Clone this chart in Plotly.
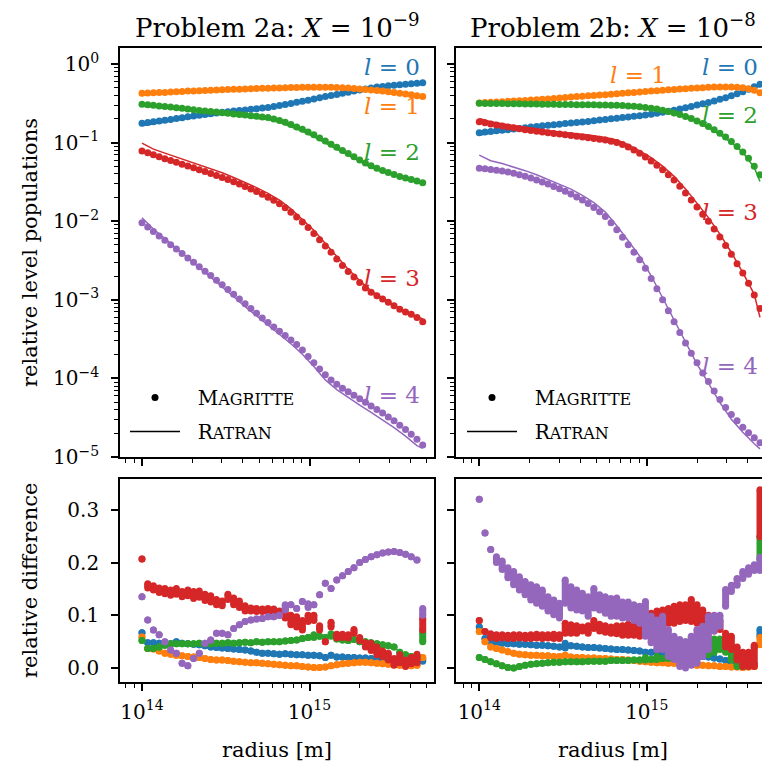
import numpy as np
import plotly.graph_objects as go

# ---------------------------------------------------------------------------
# Radial grid (units of 1e14 m)
# ---------------------------------------------------------------------------
radius_1e14 = [1.000, 1.082, 1.170, 1.266, 1.370, 1.483, 1.604, 1.735, 1.878, 2.032,
               2.198, 2.378, 2.573, 2.784, 3.012, 3.258, 3.526, 3.815, 4.127, 4.466,
               4.831, 5.227, 5.655, 6.119, 6.620, 7.161, 7.748, 8.383, 9.069, 9.813,
               10.62, 11.49, 12.43, 13.45, 14.55, 15.74, 17.03, 18.43, 19.94, 21.57,
               23.33, 25.25, 27.32, 29.55, 31.98, 34.59, 37.43, 40.50, 43.82, 47.41]

radius_ratran_1e14 = [1.000, 1.170, 1.370, 1.604, 1.878, 2.198, 2.573, 3.012, 3.526, 4.127,
                      4.831, 5.655, 6.620, 7.748, 9.069, 10.62, 12.43, 14.55, 17.03, 19.94,
                      23.33, 27.32, 31.98, 37.43, 43.82, 47.41]

# ---------------------------------------------------------------------------
# Level populations, log10 -- Magritte (points) and Ratran (lines)
# ---------------------------------------------------------------------------
mag_2a_l0 = [-0.755, -0.745, -0.735, -0.726, -0.716, -0.705, -0.694, -0.683, -0.672, -0.661,
             -0.651, -0.642, -0.633, -0.624, -0.615, -0.606, -0.598, -0.591, -0.584, -0.577,
             -0.569, -0.561, -0.552, -0.540, -0.527, -0.514, -0.501, -0.488, -0.474, -0.460,
             -0.445, -0.430, -0.415, -0.401, -0.387, -0.373, -0.359, -0.345, -0.331, -0.317,
             -0.305, -0.294, -0.285, -0.277, -0.270, -0.264, -0.258, -0.252, -0.246, -0.240]
mag_2a_l1 = [-0.373, -0.370, -0.367, -0.364, -0.361, -0.357, -0.353, -0.349, -0.345, -0.342,
             -0.339, -0.336, -0.333, -0.330, -0.327, -0.324, -0.322, -0.320, -0.317, -0.315,
             -0.312, -0.310, -0.308, -0.306, -0.304, -0.302, -0.300, -0.298, -0.297, -0.296,
             -0.295, -0.295, -0.296, -0.297, -0.299, -0.302, -0.306, -0.311, -0.317, -0.323,
             -0.330, -0.337, -0.345, -0.353, -0.362, -0.371, -0.381, -0.392, -0.403, -0.414]
mag_2a_l2 = [-0.513, -0.519, -0.526, -0.533, -0.540, -0.547, -0.555, -0.563, -0.572, -0.581,
             -0.590, -0.598, -0.605, -0.612, -0.620, -0.628, -0.636, -0.643, -0.650, -0.658,
             -0.665, -0.673, -0.682, -0.699, -0.718, -0.741, -0.770, -0.800, -0.830, -0.865,
             -0.900, -0.940, -0.980, -1.020, -1.060, -1.100, -1.140, -1.180, -1.220, -1.260,
             -1.295, -1.325, -1.355, -1.380, -1.405, -1.430, -1.450, -1.470, -1.490, -1.510]
mag_2a_l3 = [-1.107, -1.130, -1.155, -1.180, -1.204, -1.228, -1.251, -1.274, -1.297, -1.320,
             -1.344, -1.368, -1.392, -1.417, -1.443, -1.469, -1.497, -1.527, -1.558, -1.590,
             -1.623, -1.658, -1.695, -1.735, -1.778, -1.828, -1.885, -1.945, -2.010, -2.080,
             -2.155, -2.235, -2.315, -2.395, -2.480, -2.565, -2.640, -2.710, -2.780, -2.850,
             -2.905, -2.950, -2.990, -3.030, -3.075, -3.120, -3.155, -3.185, -3.225, -3.280]
mag_2a_l4 = [-2.019, -2.075, -2.131, -2.187, -2.243, -2.299, -2.355, -2.411, -2.467, -2.523,
             -2.580, -2.636, -2.690, -2.750, -2.810, -2.870, -2.930, -2.990, -3.050, -3.110,
             -3.170, -3.230, -3.290, -3.345, -3.400, -3.455, -3.510, -3.570, -3.640, -3.720,
             -3.800, -3.880, -3.955, -4.020, -4.075, -4.125, -4.170, -4.215, -4.260, -4.305,
             -4.350, -4.395, -4.440, -4.490, -4.540, -4.595, -4.650, -4.710, -4.775, -4.847]

rat_2a_l0 = [-0.785, -0.757, -0.737, -0.714, -0.692, -0.670, -0.651, -0.632, -0.614, -0.599,
             -0.583, -0.566, -0.540, -0.513, -0.486, -0.456, -0.425, -0.397, -0.369, -0.340,
             -0.313, -0.292, -0.276, -0.264, -0.251, -0.247]
rat_2a_l1 = [-0.400, -0.383, -0.376, -0.367, -0.358, -0.350, -0.343, -0.335, -0.329, -0.323,
             -0.317, -0.312, -0.307, -0.302, -0.298, -0.295, -0.296, -0.301, -0.310, -0.321,
             -0.334, -0.349, -0.366, -0.384, -0.405, -0.422]
rat_2a_l2 = [-0.536, -0.543, -0.561, -0.577, -0.594, -0.612, -0.627, -0.642, -0.658, -0.672,
             -0.687, -0.705, -0.741, -0.793, -0.855, -0.927, -1.005, -1.085, -1.164, -1.243,
             -1.317, -1.374, -1.422, -1.460, -1.499, -1.536]
rat_2a_l3 = [-1.007, -1.083, -1.134, -1.185, -1.229, -1.278, -1.329, -1.383, -1.444, -1.506,
             -1.573, -1.645, -1.732, -1.844, -1.974, -2.114, -2.283, -2.453, -2.612, -2.756,
             -2.887, -2.977, -3.070, -3.149, -3.219, -3.241]
rat_2a_l4 = [-1.955, -2.099, -2.221, -2.343, -2.467, -2.592, -2.712, -2.838, -2.961, -3.087,
             -3.209, -3.330, -3.441, -3.559, -3.692, -3.849, -4.019, -4.142, -4.243, -4.339,
             -4.433, -4.526, -4.627, -4.735, -4.856, -4.891]

mag_2b_l0 = [-0.874, -0.866, -0.858, -0.850, -0.843, -0.835, -0.827, -0.819, -0.811, -0.803,
             -0.795, -0.787, -0.779, -0.772, -0.765, -0.758, -0.751, -0.744, -0.737, -0.730,
             -0.722, -0.714, -0.706, -0.698, -0.690, -0.682, -0.674, -0.666, -0.657, -0.648,
             -0.638, -0.627, -0.615, -0.602, -0.588, -0.573, -0.557, -0.540, -0.522, -0.506,
             -0.489, -0.470, -0.450, -0.430, -0.405, -0.380, -0.352, -0.322, -0.290, -0.258]
mag_2b_l1 = [-0.495, -0.491, -0.487, -0.483, -0.479, -0.475, -0.471, -0.467, -0.463, -0.459,
             -0.455, -0.450, -0.445, -0.439, -0.433, -0.427, -0.421, -0.415, -0.410, -0.405,
             -0.400, -0.395, -0.390, -0.385, -0.379, -0.373, -0.367, -0.361, -0.355, -0.349,
             -0.344, -0.339, -0.334, -0.329, -0.324, -0.319, -0.314, -0.309, -0.305, -0.301,
             -0.297, -0.294, -0.292, -0.291, -0.292, -0.296, -0.303, -0.315, -0.335, -0.365]
mag_2b_l2 = [-0.500, -0.501, -0.502, -0.503, -0.504, -0.505, -0.506, -0.507, -0.508, -0.509,
             -0.510, -0.511, -0.512, -0.513, -0.514, -0.515, -0.516, -0.517, -0.518, -0.519,
             -0.520, -0.521, -0.522, -0.524, -0.526, -0.529, -0.533, -0.538, -0.544, -0.552,
             -0.562, -0.574, -0.588, -0.604, -0.622, -0.643, -0.667, -0.694, -0.724, -0.757,
             -0.794, -0.835, -0.880, -0.930, -0.986, -1.048, -1.120, -1.200, -1.300, -1.410]
mag_2b_l3 = [-0.734, -0.748, -0.762, -0.775, -0.788, -0.800, -0.812, -0.824, -0.835, -0.846,
             -0.856, -0.865, -0.874, -0.883, -0.892, -0.901, -0.910, -0.919, -0.928, -0.938,
             -0.948, -0.958, -0.968, -0.982, -1.000, -1.025, -1.057, -1.095, -1.137, -1.183,
             -1.233, -1.287, -1.345, -1.408, -1.476, -1.555, -1.640, -1.730, -1.820, -1.910,
             -2.000, -2.100, -2.200, -2.310, -2.420, -2.540, -2.660, -2.790, -2.940, -3.110]
mag_2b_l4 = [-1.327, -1.334, -1.342, -1.351, -1.361, -1.374, -1.390, -1.408, -1.428, -1.450,
             -1.475, -1.500, -1.528, -1.557, -1.588, -1.620, -1.655, -1.692, -1.730, -1.775,
             -1.825, -1.880, -1.940, -2.020, -2.110, -2.205, -2.300, -2.395, -2.490, -2.600,
             -2.730, -2.860, -3.000, -3.140, -3.278, -3.415, -3.550, -3.680, -3.800, -3.930,
             -4.040, -4.160, -4.270, -4.370, -4.460, -4.540, -4.620, -4.690, -4.755, -4.818]

rat_2b_l0 = [-0.907, -0.879, -0.863, -0.846, -0.830, -0.814, -0.798, -0.783, -0.768, -0.753,
             -0.736, -0.720, -0.703, -0.686, -0.669, -0.650, -0.626, -0.599, -0.567, -0.531,
             -0.497, -0.456, -0.410, -0.356, -0.293, -0.285]
rat_2b_l1 = [-0.524, -0.504, -0.494, -0.483, -0.474, -0.466, -0.455, -0.442, -0.430, -0.418,
             -0.408, -0.397, -0.385, -0.372, -0.360, -0.348, -0.337, -0.327, -0.316, -0.307,
             -0.299, -0.293, -0.293, -0.304, -0.337, -0.386]
rat_2b_l2 = [-0.509, -0.507, -0.506, -0.506, -0.510, -0.513, -0.517, -0.519, -0.521, -0.523,
             -0.525, -0.527, -0.531, -0.538, -0.549, -0.567, -0.593, -0.627, -0.676, -0.741,
             -0.811, -0.899, -0.999, -1.122, -1.317, -1.496]
rat_2b_l3 = [-0.693, -0.735, -0.761, -0.785, -0.808, -0.829, -0.847, -0.865, -0.876, -0.894,
             -0.914, -0.934, -0.968, -1.025, -1.105, -1.192, -1.299, -1.430, -1.589, -1.769,
             -1.954, -2.164, -2.398, -2.653, -2.931, -3.224]
rat_2b_l4 = [-1.160, -1.231, -1.267, -1.309, -1.357, -1.409, -1.472, -1.537, -1.592, -1.672,
             -1.765, -1.884, -2.057, -2.249, -2.444, -2.694, -2.971, -3.256, -3.537, -3.817,
             -4.061, -4.307, -4.521, -4.686, -4.831, -4.897]

# ---------------------------------------------------------------------------
# Relative differences; a [low, high] pair marks the spread of the points
# sharing one radius
# ---------------------------------------------------------------------------
dif_2a_l0 = [0.067, 0.048, 0.048, 0.047, 0.047, 0.046, 0.050, 0.047, 0.046, 0.045,
             0.044, 0.042, 0.040, 0.039, 0.038, 0.037, 0.036, 0.035, 0.034, 0.032,
             0.030, 0.028, 0.028, 0.027, 0.026, 0.027, 0.026, 0.025, 0.025, 0.024,
             0.024, 0.023, 0.020, 0.024, 0.021, 0.021, 0.020, 0.020, 0.019, 0.019,
             0.018, 0.017, 0.016, 0.015, 0.014, 0.013, 0.012, 0.011, 0.010, [0.013, 0.018]]
dif_2a_l1 = [0.059, 0.037, 0.036, 0.032, 0.028, 0.026, 0.024, 0.023, 0.022, 0.021,
             0.020, 0.018, 0.016, 0.015, 0.015, 0.014, 0.013, 0.012, 0.011, 0.010,
             0.010, 0.009, 0.008, 0.007, 0.006, 0.005, 0.004, 0.004, 0.003, 0.002,
             0.001, 0.001, 0.002, 0.004, 0.006, 0.008, 0.009, 0.010, 0.011, 0.011,
             0.010, 0.009, 0.008, 0.007, 0.006, 0.005, 0.004, 0.004, 0.005, 0.020]
dif_2a_l2 = [0.052, 0.037, 0.037, 0.040, 0.043, 0.046, 0.046, 0.046, 0.046, 0.046,
             0.047, 0.046, 0.046, 0.047, 0.047, 0.048, 0.047, 0.048, 0.049, 0.048,
             0.050, 0.049, 0.050, 0.050, 0.050, 0.051, 0.052, 0.053, 0.056, 0.058,
             [0.058, 0.063], 0.060, 0.058, [0.060, 0.065], 0.055, 0.053, 0.052, 0.054, 0.050, 0.050,
             0.048, 0.046, 0.044, 0.042, 0.040, 0.030, 0.025, 0.022, 0.020, [0.050, 0.069]]
dif_2a_l3 = [0.207, [0.152, 0.160], [0.148, 0.156], [0.143, 0.152], [0.141, 0.151],
             [0.138, 0.148], [0.140, 0.151], [0.135, 0.145], [0.137, 0.148], [0.132, 0.145],
             [0.134, 0.146], [0.128, 0.140], [0.125, 0.137], [0.120, 0.130], [0.118, 0.127],
             [0.130, 0.140], [0.120, 0.133], [0.115, 0.127], [0.108, 0.118], [0.108, 0.114],
             [0.107, 0.113], [0.107, 0.112], [0.107, 0.113], [0.106, 0.112], [0.100, 0.108],
             [0.095, 0.112], [0.082, 0.100], [0.078, 0.097], [0.072, 0.090], [0.088, 0.100],
             [0.090, 0.100], [0.072, 0.080], 0.050, [0.078, 0.087], [0.057, 0.064],
             [0.058, 0.064], [0.057, 0.063], [0.066, 0.073], [0.052, 0.058], [0.040, 0.048],
             [0.033, 0.047], [0.025, 0.040], [0.022, 0.032], [0.015, 0.028], [0.005, 0.018],
             [0.010, 0.025], [0.003, 0.015], [0.008, 0.020], [0.010, 0.026], [0.072, 0.095]]
dif_2a_l4 = [0.135, 0.091, 0.072, 0.063, 0.050, 0.034, 0.028, 0.009, 0.004, 0.018,
             0.028, 0.047, 0.053, 0.066, 0.066, 0.063, 0.075, 0.082, 0.088, 0.091,
             0.093, 0.094, 0.097, 0.097, 0.100, [0.110, 0.120], 0.120, 0.113, 0.126, [0.115, 0.122],
             0.120, 0.139, 0.161, 0.151, 0.167, 0.175, 0.183, 0.190, 0.200, 0.206,
             0.211, 0.215, 0.218, 0.220, 0.221, 0.219, 0.216, 0.211, 0.205, [0.100, 0.113]]

dif_2b_l0 = [0.078, 0.056, 0.050, 0.048, 0.047, 0.046, 0.046, 0.045, 0.045, 0.044,
             0.043, 0.043, 0.042, 0.041, 0.040, [0.038, 0.047], 0.042, 0.041, 0.040, 0.039,
             0.039, 0.038, 0.037, 0.036, 0.035, 0.035, 0.034, 0.033, 0.032, 0.030,
             0.030, 0.029, 0.029, 0.028, 0.027, 0.026, 0.025, 0.024, 0.023, 0.022,
             0.021, 0.019, 0.017, 0.014, 0.012, 0.010, 0.009, 0.008, 0.007, [0.060, 0.073]]
dif_2b_l1 = [0.069, 0.050, 0.040, 0.037, 0.034, 0.031, 0.028, 0.026, 0.025, 0.024,
             0.024, 0.023, 0.023, 0.022, 0.022, 0.024, 0.021, 0.020, 0.020, 0.019,
             0.019, 0.018, 0.018, 0.017, 0.016, 0.016, 0.015, 0.014, 0.013, 0.012,
             0.011, 0.010, 0.010, 0.009, 0.009, 0.008, 0.007, 0.006, 0.005, 0.005,
             0.004, 0.004, 0.003, 0.003, 0.002, 0.002, 0.001, 0.002, 0.003, [0.044, 0.058]]
dif_2b_l2 = [0.020, 0.016, 0.012, 0.008, 0.004, 0.001, 0.000, 0.003, 0.005, 0.007,
             0.008, 0.009, 0.010, 0.011, 0.011, 0.012, 0.012, 0.012, 0.012, 0.013,
             0.013, 0.013, 0.013, 0.014, 0.014, 0.014, 0.014, 0.015, 0.015, [0.015, 0.020],
             0.016, [0.016, 0.022], 0.018, [0.018, 0.026], [0.020, 0.030],
             [0.022, 0.040], [0.030, 0.050], [0.035, 0.055], [0.030, 0.050], [0.025, 0.045],
             [0.025, 0.050], [0.030, 0.055], [0.035, 0.055], [0.030, 0.050], [0.015, 0.035],
             [0.003, 0.012], 0.003, 0.005, 0.040, [0.205, 0.249]]
dif_2b_l3 = [0.090, 0.069, [0.058, 0.065], [0.056, 0.063], [0.057, 0.063],
             [0.056, 0.062], [0.056, 0.063], [0.057, 0.063], [0.056, 0.062], [0.056, 0.063],
             [0.057, 0.064], [0.056, 0.063], [0.057, 0.063], [0.056, 0.064], [0.056, 0.063],
             [0.066, 0.085], [0.066, 0.082], [0.066, 0.080], [0.070, 0.078], [0.066, 0.080],
             [0.075, 0.090], [0.070, 0.083], [0.068, 0.080], [0.066, 0.078], [0.065, 0.080],
             [0.062, 0.080], [0.062, 0.083], [0.062, 0.080], [0.060, 0.078], [0.070, 0.095],
             [0.085, 0.104], [0.088, 0.108], [0.090, 0.110], [0.085, 0.113], [0.085, 0.117],
             [0.088, 0.120], [0.090, 0.120], [0.088, 0.130], [0.085, 0.120], [0.080, 0.110],
             [0.075, 0.100], [0.070, 0.095], [0.073, 0.090], [0.040, 0.066], [0.035, 0.060],
             [0.015, 0.040], [0.003, 0.030], [0.003, 0.030], [0.003, 0.043], [0.249, 0.338]]
dif_2b_l4 = [0.320, 0.256, 0.225, [0.200, 0.211], [0.187, 0.203],
             [0.171, 0.190], [0.158, 0.183], [0.148, 0.173], [0.139, 0.164], [0.129, 0.158],
             [0.123, 0.154], [0.117, 0.148], [0.108, 0.135], [0.101, 0.129], [0.095, 0.123],
             [0.123, 0.167], [0.114, 0.154], [0.110, 0.148], [0.108, 0.142], [0.098, 0.135],
             [0.114, 0.151], [0.110, 0.139], [0.104, 0.135], [0.098, 0.132], [0.098, 0.133],
             [0.095, 0.125], [0.095, 0.125], [0.090, 0.120], [0.085, 0.117], [0.060, 0.126],
             [0.048, 0.098], [0.035, 0.091], [0.035, 0.098], [0.022, 0.073], [0.016, 0.060],
             [0.003, 0.054], [0.000, 0.050], [0.005, 0.060], [0.009, 0.073], [0.022, 0.079],
             [0.035, 0.098], [0.070, 0.100], [0.079, 0.100], [0.117, 0.149], [0.145, 0.157],
             [0.157, 0.170], [0.170, 0.183], [0.178, 0.190], [0.185, 0.196], [0.185, 0.210]]

levels = [0, 1, 2, 3, 4]
level_colors = ["#1f77b4", "#ff7f0e", "#2ca02c", "#d62728", "#9467bd"]

# ---------------------------------------------------------------------------
# Figure geometry helpers (pixel -> paper fraction)
# ---------------------------------------------------------------------------
W, H = 762, 769
FONT = "DejaVu Serif"


def fx(p):
    return p / W


def fy(p):
    return 1 - p / H


r = np.array(radius_1e14) * 1e14
r_rat = np.array(radius_ratran_1e14) * 1e14

mag = {"a": [mag_2a_l0, mag_2a_l1, mag_2a_l2, mag_2a_l3, mag_2a_l4],
       "b": [mag_2b_l0, mag_2b_l1, mag_2b_l2, mag_2b_l3, mag_2b_l4]}
rat = {"a": [rat_2a_l0, rat_2a_l1, rat_2a_l2, rat_2a_l3, rat_2a_l4],
       "b": [rat_2b_l0, rat_2b_l1, rat_2b_l2, rat_2b_l3, rat_2b_l4]}
dif = {"a": [dif_2a_l0, dif_2a_l1, dif_2a_l2, dif_2a_l3, dif_2a_l4],
       "b": [dif_2b_l0, dif_2b_l1, dif_2b_l2, dif_2b_l3, dif_2b_l4]}


def split_range(vals):
    lo = np.array([v[0] if isinstance(v, list) else v for v in vals])
    hi = np.array([v[1] if isinstance(v, list) else v for v in vals])
    return lo, hi


MS = 7  # marker diameter in px
fig = go.Figure()

panels = {"a": ("x", "y", "x3", "y3"), "b": ("x2", "y2", "x4", "y4")}
for prob, (xt, yt, xb, yb) in panels.items():
    for lvl, col in zip(levels, level_colors):
        # populations: Magritte points + Ratran line
        fig.add_trace(go.Scatter(
            x=r, y=np.power(10.0, mag[prob][lvl]), mode="markers",
            marker=dict(size=MS, color=col, line=dict(width=0)),
            xaxis=xt, yaxis=yt, showlegend=False, hoverinfo="skip"))
        fig.add_trace(go.Scatter(
            x=r_rat, y=np.power(10.0, rat[prob][lvl]), mode="lines",
            line=dict(color=col, width=1.5),
            xaxis=xt, yaxis=yt, showlegend=False, hoverinfo="skip"))
        # relative differences: spread drawn as a bar between its end points
        lo, hi = split_range(dif[prob][lvl])
        fig.add_trace(go.Scatter(
            x=r, y=lo, mode="markers",
            marker=dict(size=MS, color=col, line=dict(width=0)),
            error_y=dict(type="data", symmetric=False, array=hi - lo,
                         arrayminus=np.zeros(len(lo)), thickness=MS, width=0,
                         color=col),
            xaxis=xb, yaxis=yb, showlegend=False, hoverinfo="skip"))
        fig.add_trace(go.Scatter(
            x=r, y=hi, mode="markers",
            marker=dict(size=MS, color=col, line=dict(width=0)),
            xaxis=xb, yaxis=yb, showlegend=False, hoverinfo="skip"))

# legend entries (black symbols) for each top panel, names in small capitals
NB = "\u00a0\u00a0"
sc_small = "<span style='font-size:16px'>{}</span>"
for leg, xt, yt in (("legend", "x", "y"), ("legend2", "x2", "y2")):
    fig.add_trace(go.Scatter(
        x=[None], y=[None], mode="markers", marker=dict(size=MS, color="black"),
        name=NB + "M" + sc_small.format("AGRITTE"), legend=leg,
        legendgroup=leg + "m", xaxis=xt, yaxis=yt))
    fig.add_trace(go.Scatter(
        x=[None], y=[None], mode="lines", line=dict(color="black", width=1.5),
        name=NB + "R" + sc_small.format("ATRAN"), legend=leg,
        legendgroup=leg + "r", xaxis=xt, yaxis=yt))

# ---------------------------------------------------------------------------
# Axes
# ---------------------------------------------------------------------------
x_major = [1e14, 1e15]
x_major_text = ["10<sup>14</sup>", "10<sup>15</sup>"]
x_minor = [m * 10.0 ** e for e in (13, 14, 15) for m in range(2, 10)]
y_major = [10.0 ** e for e in range(-5, 1)]
y_major_text = ["10<sup>−%d</sup>" % (-e) if e < 0 else "10<sup>0</sup>" for e in range(-5, 1)]
y_minor = [m * 10.0 ** e for e in range(-5, 0) for m in range(2, 10)]
d_major = [0.0, 0.1, 0.2, 0.3]
d_major_text = ["0.0", "0.1", "0.2", "0.3"]

base = dict(showgrid=False, zeroline=False, showline=True, linecolor="black",
            linewidth=1.7, ticks="outside", ticklen=7, tickwidth=1.7,
            tickcolor="black", tickfont=dict(family=FONT, size=20, color="black"))
minor_ticks = dict(ticks="outside", ticklen=4, tickwidth=1.2, tickcolor="black",
                   showgrid=False)

left_x = [fx(120), fx(434)]
right_x = [fx(456), 1.0]
top_y = [fy(457), fy(48)]
bot_y = [fy(682), fy(479)]
xr_left = [13.8687, 15.7433]
xr_right = [13.861, 15.6878]

fig.update_layout(
    xaxis=dict(base, type="log", domain=left_x, range=xr_left, anchor="y",
               tickvals=x_major, ticktext=x_major_text, showticklabels=False,
               minor=dict(minor_ticks, tickvals=x_minor), mirror=True),
    yaxis=dict(base, type="log", domain=top_y, range=[-5.0, 0.2036], anchor="x",
               tickvals=y_major, ticktext=y_major_text, ticklabelstandoff=8,
               minor=dict(minor_ticks, tickvals=y_minor), mirror=True),
    xaxis2=dict(base, type="log", domain=right_x, range=xr_right, anchor="y2",
                tickvals=x_major, ticktext=x_major_text, showticklabels=False,
                minor=dict(minor_ticks, tickvals=x_minor), mirror=True),
    yaxis2=dict(base, type="log", domain=top_y, range=[-5.0, 0.2036], anchor="x2",
                tickvals=y_major, ticktext=y_major_text, showticklabels=False,
                minor=dict(minor_ticks, tickvals=y_minor)),
    xaxis3=dict(base, type="log", domain=left_x, range=xr_left, anchor="y3",
                tickvals=x_major, ticktext=x_major_text, ticklabelstandoff=4,
                minor=dict(minor_ticks, tickvals=x_minor), mirror=True),
    yaxis3=dict(base, domain=bot_y, range=[-0.0266, 0.3586], anchor="x3",
                tickvals=d_major, ticktext=d_major_text, ticklabelstandoff=8,
                mirror=True),
    xaxis4=dict(base, type="log", domain=right_x, range=xr_right, anchor="y4",
                tickvals=x_major, ticktext=x_major_text, ticklabelstandoff=4,
                minor=dict(minor_ticks, tickvals=x_minor), mirror=True),
    yaxis4=dict(base, domain=bot_y, range=[-0.0266, 0.3586], anchor="x4",
                tickvals=d_major, ticktext=d_major_text, showticklabels=False),
)

legend_style = dict(xanchor="left", yanchor="top", bgcolor="rgba(0,0,0,0)",
                    borderwidth=0, font=dict(family=FONT, size=20, color="black"),
                    tracegroupgap=5, itemwidth=50)
fig.update_layout(
    legend=dict(legend_style, x=fx(125), y=fy(378)),
    legend2=dict(legend_style, x=fx(462), y=fy(378)),
)

# ---------------------------------------------------------------------------
# Text: titles, axis labels, level labels
# ---------------------------------------------------------------------------
annotations = [
    dict(text="Problem 2a: <i>X</i> = 10<sup>−9</sup>", x=fx(277), y=fy(26),
         font=dict(size=26)),
    dict(text="Problem 2b: <i>X</i> = 10<sup>−8</sup>", x=fx(613), y=fy(26),
         font=dict(size=26)),
    dict(text="relative level populations", x=fx(30), y=fy(253), textangle=-90,
         font=dict(size=21)),
    dict(text="relative difference", x=fx(30), y=fy(580), textangle=-90,
         font=dict(size=21)),
    dict(text="radius [m]", x=fx(277), y=fy(750), font=dict(size=21)),
    dict(text="radius [m]", x=fx(613), y=fy(750), font=dict(size=21)),
]

level_label_pos = {
    "a": [(422, 67), (422, 106), (422, 152), (422, 278), (422, 395)],
    "b": [(760, 67), (668, 75), (760, 115), (760, 212), (760, 366)],
}
for prob, pos in level_label_pos.items():
    for lvl, col, (px, py) in zip(levels, level_colors, pos):
        annotations.append(dict(text="<i>l</i> = %d" % lvl, x=fx(px), y=fy(py),
                                xanchor="right", font=dict(size=23, color=col)))

for a in annotations:
    a.setdefault("xref", "paper")
    a.setdefault("yref", "paper")
    a.setdefault("showarrow", False)
    a.setdefault("xanchor", "center")
    a.setdefault("yanchor", "middle")
    a["font"] = dict(dict(family=FONT, color="black"), **a["font"])

fig.update_layout(
    annotations=annotations,
    width=W, height=H,
    margin=dict(l=0, r=0, t=0, b=0, pad=0, autoexpand=False),
    paper_bgcolor="white", plot_bgcolor="white",
    font=dict(family=FONT, color="black"),
)

fig.write_html("out.html")
